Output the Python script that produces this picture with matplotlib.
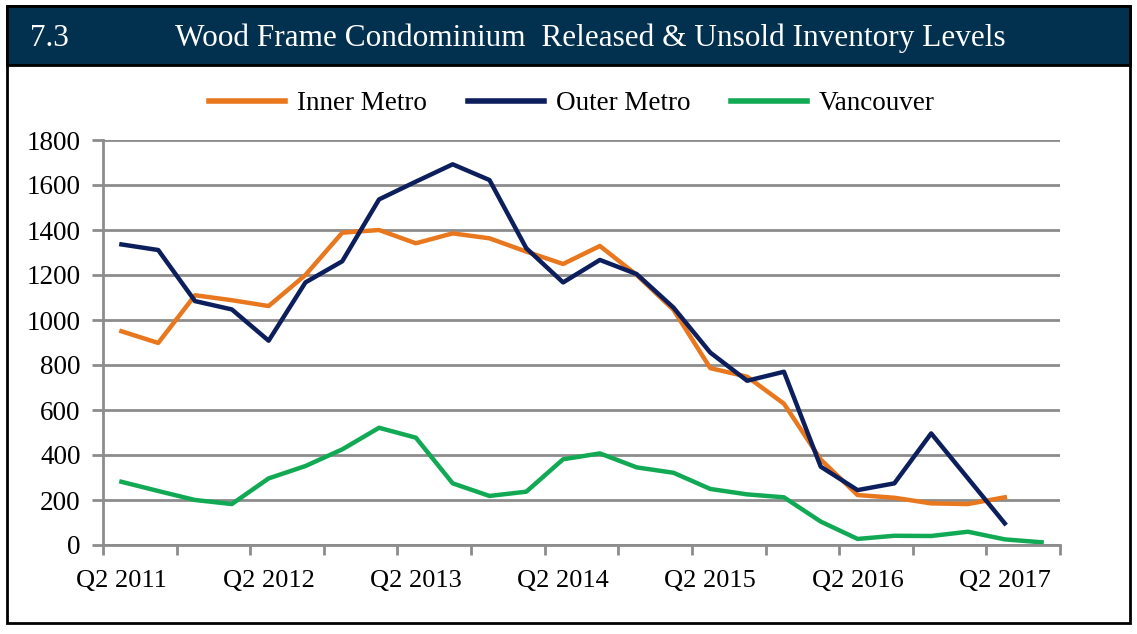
import numpy as np
import matplotlib.pyplot as plt
from matplotlib.patches import Rectangle
from matplotlib.lines import Line2D

# quarters Q2 2011 .. Q3 2017
quarters = ['Q2 2011', 'Q3 2011', 'Q4 2011', 'Q1 2012',
            'Q2 2012', 'Q3 2012', 'Q4 2012', 'Q1 2013',
            'Q2 2013', 'Q3 2013', 'Q4 2013', 'Q1 2014',
            'Q2 2014', 'Q3 2014', 'Q4 2014', 'Q1 2015',
            'Q2 2015', 'Q3 2015', 'Q4 2015', 'Q1 2016',
            'Q2 2016', 'Q3 2016', 'Q4 2016', 'Q1 2017',
            'Q2 2017', 'Q3 2017']

inner_metro = [950, 898, 1110, 1088, 1062, 1200, 1388, 1400, 1341, 1385,
               1363, 1304, 1249, 1329, 1200, 1045, 786, 748, 628, 380,
               222, 210, 185, 182, 212]
outer_metro = [1336, 1311, 1084, 1047, 908, 1167, 1261, 1536, 1615, 1692,
               1622, 1319, 1167, 1267, 1204, 1055, 855, 730, 770, 348,
               244, 274, 496, 296, 96]
vancouver = [281, 240, 200, 182, 296, 351, 425, 521, 477, 274,
             218, 237, 381, 407, 345, 321, 249, 225, 212, 104,
             27, 41, 40, 59, 25, 12]

c_inner = '#E8771E'
c_outer = '#0C1F5C'
c_van = '#12A955'
navy = '#02304F'
grid_c = '#8C8C8C'

serif = ['Liberation Serif', 'DejaVu Serif']
plt.rcParams['font.family'] = serif

fig = plt.figure(figsize=(11.37, 6.34), dpi=100)
W, H = 1137, 634

# outer frame and title bar
fig.patches.append(Rectangle((7 / W, 1 - 623 / H), 1123 / W, 617 / H,
                             transform=fig.transFigure, fill=False,
                             edgecolor='black', linewidth=2, zorder=0))
fig.patches.append(Rectangle((7 / W, 1 - 65 / H), 1123 / W, 59 / H,
                             transform=fig.transFigure, facecolor=navy,
                             edgecolor='black', linewidth=2, zorder=1))
fig.text(30 / W, 1 - 38 / H, '7.3', color='white', fontsize=22.5,
         va='center', ha='left')
fig.text(175 / W, 1 - 38 / H,
         'Wood Frame Condominium  Released & Unsold Inventory Levels',
         color='white', fontsize=22.5, va='center', ha='left')

ax = fig.add_axes([103 / W, 1 - 545 / H, 957 / W, 405 / H])
x = np.arange(len(quarters))
ax.plot(x[:len(inner_metro)], inner_metro, color=c_inner, lw=3.2,
        label='Inner Metro')
ax.plot(x[:len(outer_metro)], outer_metro, color=c_outer, lw=3.2,
        label='Outer Metro')
ax.plot(x[:len(vancouver)], vancouver, color=c_van, lw=3.2,
        label='Vancouver')

ax.set_xlim(-0.5, len(quarters) - 0.5)
ax.set_ylim(0, 1800)
ax.set_yticks(np.arange(0, 1801, 200))
ax.yaxis.grid(True, color=grid_c, lw=2)
ax.set_axisbelow(True)

# tick marks at category boundaries, labels every 4 quarters
ax.set_xticks(np.arange(-0.5, len(quarters), 2))
ax.set_xticklabels([])
ax.set_xticks(x[::4], minor=True)
ax.set_xticklabels(quarters[::4], minor=True)
ax.tick_params(axis='x', which='major', length=7, width=2, color=grid_c)
ax.tick_params(axis='x', which='minor', length=0, pad=18, labelsize=19)
ax.tick_params(axis='y', length=8, width=2, color=grid_c, labelsize=19.5,
               pad=8)

for s in ['top', 'right']:
    ax.spines[s].set_visible(False)
for s in ['left', 'bottom']:
    ax.spines[s].set_color(grid_c)
    ax.spines[s].set_linewidth(2)

handles = [Line2D([], [], color=c, lw=4) for c in (c_inner, c_outer, c_van)]
fig.legend(handles, ['Inner Metro', 'Outer Metro', 'Vancouver'],
           loc='center', bbox_to_anchor=(572 / W, 1 - 104 / H), ncol=3,
           frameon=False, fontsize=19.5, handlelength=2.8, columnspacing=1.5,
           handletextpad=0.45)

fig.savefig('out.png', dpi=100)
